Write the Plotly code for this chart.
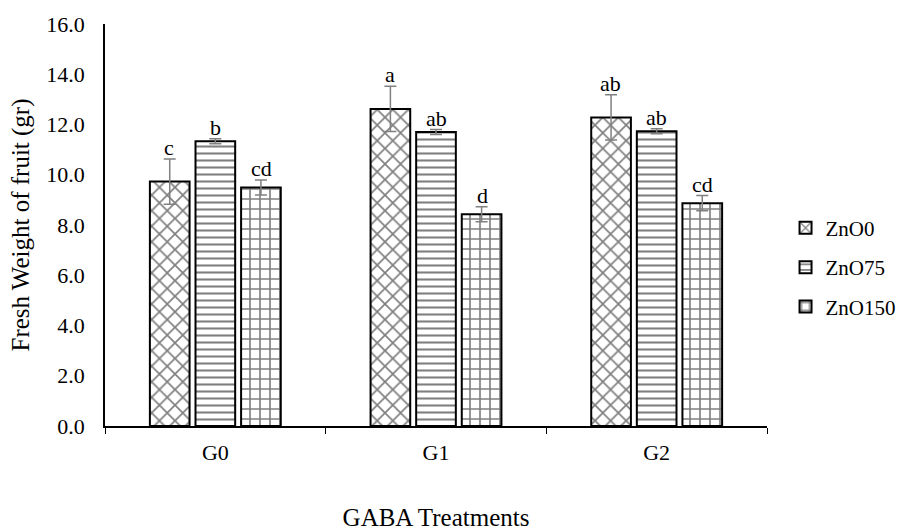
import plotly.graph_objects as go

categories = ["G0", "G1", "G2"]
series_names = ["ZnO0", "ZnO75", "ZnO150"]
zno0 = [9.73, 12.62, 12.28]
zno75 = [11.33, 11.70, 11.73]
zno150 = [9.49, 8.43, 8.87]
err0 = [0.90, 0.90, 0.90]
err75 = [0.10, 0.10, 0.10]
err150 = [0.30, 0.30, 0.30]
letters0 = ["c", "a", "ab"]
letters75 = ["b", "ab", "ab"]
letters150 = ["cd", "d", "cd"]

values = [zno0, zno75, zno150]
errors = [err0, err75, err150]
letters = [letters0, letters75, letters150]
shapes = ["x", "-", "+"]
pat_sizes = [11, 7, 10]
pat_sol = [0.28, 0.3, 0.3]
shifts = [-46, 0, 46]

FONT = "Liberation Serif"

fig = go.Figure()
for i, name in enumerate(series_names):
    fig.add_trace(go.Bar(
        x=categories, y=values[i], name=name, legendgroup=name,
        marker=dict(color="white", line=dict(color="black", width=2),
                    pattern=dict(shape=shapes[i], fgcolor="black", bgcolor="white",
                                 size=pat_sizes[i], solidity=pat_sol[i], fillmode="overlay")),
        error_y=dict(type="data", array=errors[i], visible=True, color="#808080",
                     thickness=1.5, width=6),
    ))
    for j, c in enumerate(categories):
        fig.add_annotation(x=c, y=values[i][j] + errors[i][j], text=letters[i][j],
                           showarrow=False, yanchor="bottom", xshift=shifts[i], yshift=-3,
                           font=dict(family=FONT, size=22, color="black"))

fig.update_layout(
    width=906, height=531,
    margin=dict(l=105, r=139, t=24, b=105, autoexpand=False),
    plot_bgcolor="white", paper_bgcolor="white",
    barmode="group", bargap=0.38, bargroupgap=0.13,
    font=dict(family=FONT, size=22, color="black"),
    showlegend=True,
    legend=dict(x=1.028, y=0.395, xanchor="left", yanchor="middle",
                traceorder="grouped", tracegroupgap=9,
                font=dict(family=FONT, size=21), itemwidth=30),
    xaxis=dict(showline=True, linecolor="black", linewidth=1.5, ticks="outside",
               tickson="boundaries", ticklen=6, tickcolor="black", automargin=False,
               tickfont=dict(family=FONT, size=22), ticklabelstandoff=6,
               title=dict(text="GABA Treatments", font=dict(family=FONT, size=25), standoff=45),
               showgrid=False),
    yaxis=dict(range=[0, 16], dtick=2, tickformat=".1f", showline=True, linecolor="black",
               linewidth=1.5, showgrid=False, zeroline=False, ticks="", automargin=False,
               tickfont=dict(family=FONT, size=22), ticklabelstandoff=14,
               title=dict(text="Fresh Weight of fruit (gr)", font=dict(family=FONT, size=25), standoff=10)),
)

fig.write_html("out.html")
